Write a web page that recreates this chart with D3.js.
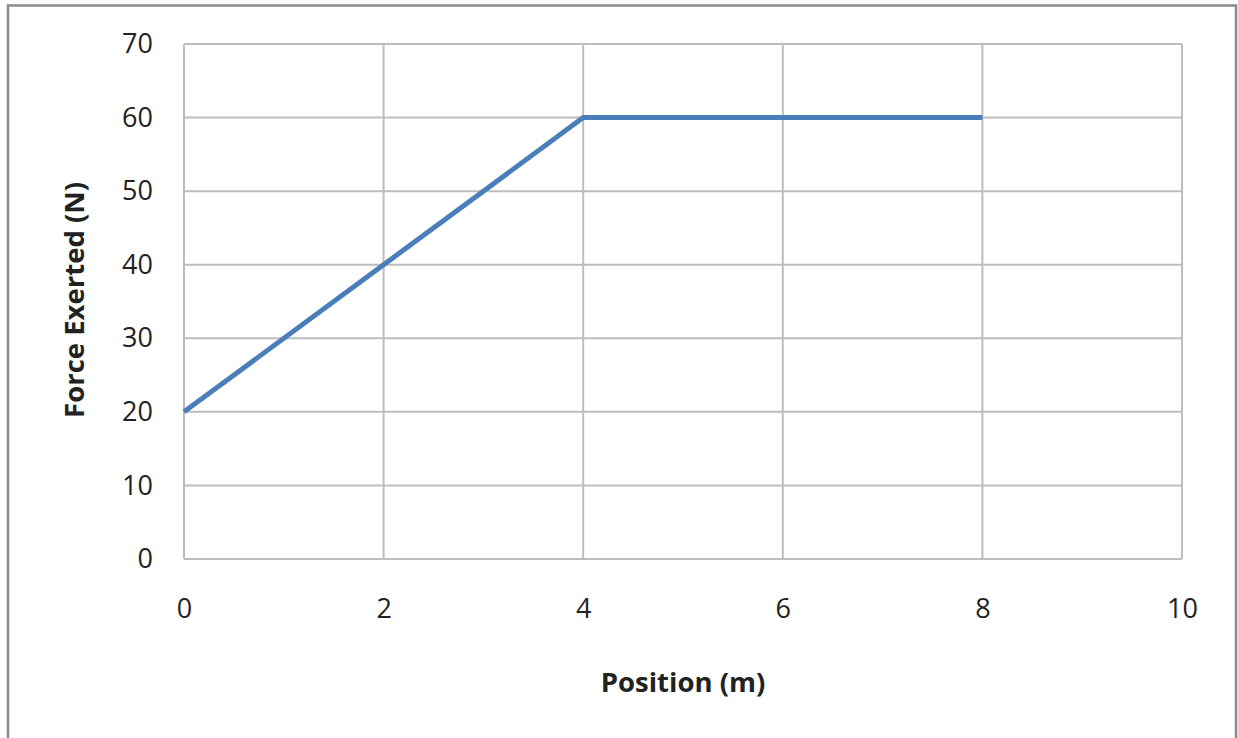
<!DOCTYPE html>
<html><head><meta charset="utf-8">
<script src="https://cdn.jsdelivr.net/npm/d3@7"></script>
<style>body{margin:0;background:#fff}svg{display:block}</style>
</head><body>
<svg id="c" width="1238" height="738"></svg>
<script>
const positions = [0, 2, 4, 6, 8];
const forces = [20, 40, 60, 60, 60];
const xTicks = [0, 2, 4, 6, 8, 10];
const yTicks = [0, 10, 20, 30, 40, 50, 60, 70];
const xTitle = "Position (m)";
const yTitle = "Force Exerted (N)";

const svg = d3.select("#c");
const font = "'Open Sans', sans-serif";
svg.append("rect").attr("x",8).attr("y",5.5).attr("width",1228).attr("height",760)
  .attr("fill","#fff").attr("stroke","#8c8c8c").attr("stroke-width",2.5);

const x = d3.scaleLinear().domain([0,10]).range([184,1182]);
const y = d3.scaleLinear().domain([0,70]).range([559,44]);

const g = svg.append("g");
g.selectAll(".hg").data(yTicks).join("line")
  .attr("x1",x(0)).attr("x2",x(10)).attr("y1",d=>y(d)).attr("y2",d=>y(d))
  .attr("stroke","#bdbdbd").attr("stroke-width",2);
g.selectAll(".vg").data(xTicks).join("line")
  .attr("y1",y(0)).attr("y2",y(70)).attr("x1",d=>x(d)).attr("x2",d=>x(d))
  .attr("stroke","#bdbdbd").attr("stroke-width",2);

const xa = svg.append("g").attr("transform",`translate(0,${y(0)})`)
  .call(d3.axisBottom(x).tickValues(xTicks).tickSize(0).tickPadding(40).tickFormat(d3.format("d")));
const ya = svg.append("g").attr("transform",`translate(${x(0)},0)`)
  .call(d3.axisLeft(y).tickValues(yTicks).tickSize(0).tickPadding(31).tickFormat(d3.format("d")));
[xa,ya].forEach(a=>{a.select(".domain").remove();
  a.selectAll("text").attr("font-family",font).attr("font-size",27).attr("fill","#222");});

svg.append("path").datum(positions.map((p,i)=>[p,forces[i]]))
  .attr("d",d3.line().x(d=>x(d[0])).y(d=>y(d[1])))
  .attr("fill","none").attr("stroke","#4a7ebb").attr("stroke-width",5);

svg.append("text").attr("x",683).attr("y",692).attr("text-anchor","middle")
  .attr("font-family",font).attr("font-weight","bold").attr("font-size",27.5).attr("fill","#222").text(xTitle);
svg.append("text").attr("transform","translate(84,300) rotate(-90)").attr("text-anchor","middle")
  .attr("font-family",font).attr("font-weight","bold").attr("font-size",27.5).attr("fill","#222").text(yTitle);
</script>
</body></html>
